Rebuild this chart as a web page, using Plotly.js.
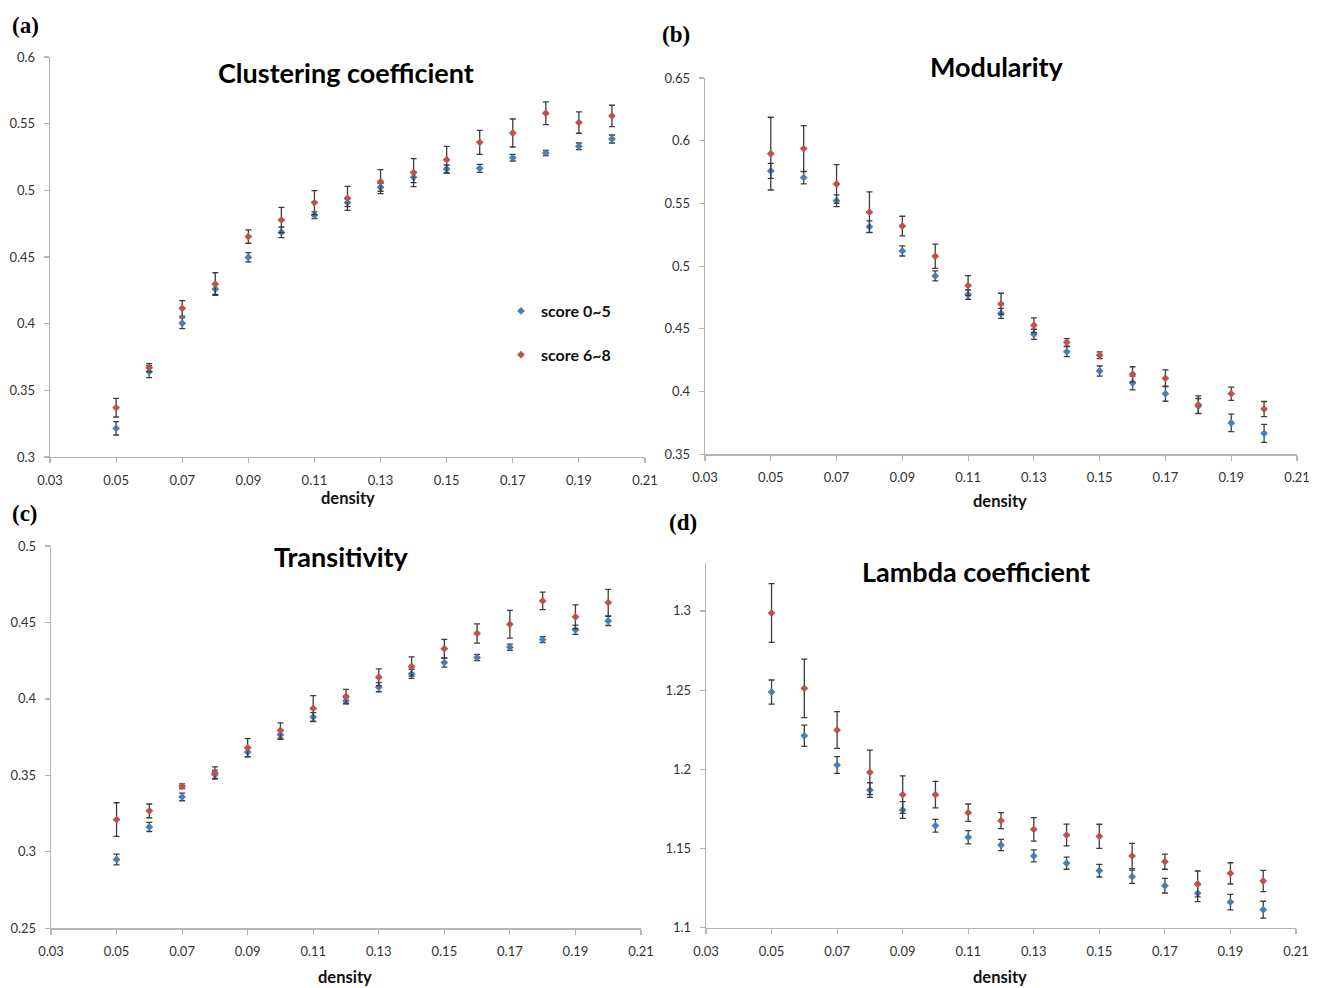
<!DOCTYPE html>
<html>
<head>
<meta charset="utf-8">
<script src="https://cdn.plot.ly/plotly-3.0.1.min.js"></script>
<style>html,body{margin:0;padding:0;background:#fff;}#chart{width:1320px;height:988px;}</style>
</head>
<body>
<div id="chart"></div>
<script>
// ---- data ----
const density = [0.05,0.06,0.07,0.08,0.09,0.10,0.11,0.12,0.13,0.14,0.15,0.16,0.17,0.18,0.19,0.20];
const seriesNames = ["score 0~5", "score 6~8"];
const panelTitles = ["Clustering coefficient", "Modularity", "Transitivity", "Lambda coefficient"];
const panelLabels = ["(a)", "(b)", "(c)", "(d)"];
const xLabel = "density";

const clusLow     = [0.3215,0.364,0.4003,0.426,0.4498,0.4685,0.4813,0.4908,0.5023,0.5098,0.516,0.5165,0.5245,0.528,0.533,0.5385];
const clusLowErr  = [0.005,0.0045,0.004,0.004,0.0035,0.004,0.0025,0.003,0.003,0.004,0.003,0.003,0.0025,0.002,0.0025,0.003];
const clusHigh    = [0.337,0.367,0.4115,0.4297,0.4653,0.4777,0.4908,0.494,0.5065,0.5133,0.523,0.536,0.543,0.5578,0.5508,0.5558];
const clusHighErr = [0.007,0.003,0.0058,0.0085,0.005,0.0095,0.009,0.009,0.009,0.0105,0.01,0.009,0.0105,0.0085,0.008,0.008];

const modLow      = [0.5759,0.5706,0.5522,0.5315,0.5121,0.4922,0.4773,0.4624,0.4457,0.4318,0.4164,0.4069,0.3983,0.3885,0.375,0.3667];
const modLowErr   = [0.006,0.005,0.0047,0.0046,0.004,0.004,0.0037,0.004,0.004,0.004,0.004,0.0055,0.006,0.006,0.007,0.0072];
const modHigh     = [0.5897,0.5937,0.5655,0.543,0.532,0.5079,0.4845,0.4699,0.4529,0.4393,0.429,0.4138,0.4106,0.3896,0.3983,0.3861];
const modHighErr  = [0.029,0.0183,0.0154,0.0162,0.0078,0.0096,0.008,0.0085,0.0058,0.003,0.0027,0.006,0.0067,0.007,0.0053,0.006];

const transLow     = [0.295,0.3163,0.3359,0.3505,0.3653,0.3766,0.3881,0.3988,0.4077,0.4164,0.4238,0.4271,0.4338,0.4388,0.4452,0.451];
const transLowErr  = [0.0035,0.003,0.0025,0.003,0.003,0.003,0.003,0.002,0.003,0.003,0.003,0.002,0.002,0.002,0.003,0.003];
const transHigh    = [0.3211,0.3268,0.3429,0.3518,0.3681,0.3794,0.3938,0.4016,0.4142,0.4212,0.4328,0.4428,0.4488,0.4641,0.4537,0.463];
const transHighErr = [0.011,0.0045,0.0015,0.0037,0.006,0.005,0.0083,0.0046,0.0055,0.0063,0.0061,0.0063,0.0091,0.0057,0.0078,0.0087];

const lamLow     = [1.2488,1.2212,1.2027,1.1869,1.1743,1.1644,1.1571,1.1522,1.1453,1.1407,1.136,1.1322,1.1265,1.1217,1.1162,1.1114];
const lamLowErr  = [0.0076,0.0067,0.0053,0.0046,0.0053,0.004,0.0042,0.0036,0.0038,0.0038,0.004,0.0042,0.0046,0.0053,0.0049,0.0053];
const lamHigh    = [1.2987,1.2511,1.2248,1.1981,1.184,1.184,1.1726,1.1676,1.1621,1.1585,1.1577,1.1453,1.1417,1.1276,1.1343,1.1295];
const lamHighErr = [0.0185,0.0185,0.0116,0.014,0.0118,0.0084,0.0055,0.005,0.0074,0.0069,0.0076,0.008,0.0048,0.0082,0.0067,0.0067];

// ---- layout helpers ----
const W = 1320, H = 988;
const px = v => v / W;
const py = v => 1 - v / H;
const BLUE = "#4a7ebb", RED = "#c0504d", ERR = "#3c3c3c";
const FONT = "Lato, 'Open Sans', sans-serif";

const panels = [
  {low: clusLow, lowE: clusLowErr, high: clusHigh, highE: clusHighErr,
   x0: 50, x1: 645, yTop: 57, yBot: 457, range: [0.3, 0.6], dtick: 0.05, tick0: 0.3,
   title: [346, 73], xl: [348, 498], lab: [25, 25]},
  {low: modLow, lowE: modLowErr, high: modHigh, highE: modHighErr,
   x0: 705, x1: 1297, yTop: 78, yBot: 454.3, range: [0.35, 0.65], dtick: 0.05, tick0: 0.35,
   title: [997, 67], xl: [1000, 501], lab: [676, 35]},
  {low: transLow, lowE: transLowErr, high: transHigh, highE: transHighErr,
   x0: 51, x1: 641, yTop: 546, yBot: 928.3, range: [0.25, 0.5], dtick: 0.05, tick0: 0.25,
   title: [341, 556], xl: [345, 977], lab: [25, 513]},
  {low: lamLow, lowE: lamLowErr, high: lamHigh, highE: lamHighErr,
   x0: 706, x1: 1296, yTop: 563.4, yBot: 927.7, range: [1.1, 1.33], dtick: 0.05, tick0: 1.1,
   title: [976, 571], xl: [1000, 977], lab: [683, 522]}
];

const data = [];
const layout = {
  width: W, height: H,
  margin: {l: 0, r: 0, t: 0, b: 0},
  paper_bgcolor: "#ffffff", plot_bgcolor: "#ffffff",
  font: {family: FONT, color: "#333333", size: 13},
  showlegend: true,
  legend: {
    x: px(501), y: py(294), xanchor: "left", yanchor: "top",
    bgcolor: "rgba(0,0,0,0)", tracegroupgap: 20,
    font: {family: FONT, size: 16, color: "#111111", weight: "bold"},
    itemwidth: 30
  },
  annotations: [],
  hovermode: false
};

panels.forEach((p, i) => {
  const n = i + 1;
  const xa = n === 1 ? "x" : "x" + n;
  const ya = n === 1 ? "y" : "y" + n;
  const xk = n === 1 ? "xaxis" : "xaxis" + n;
  const yk = n === 1 ? "yaxis" : "yaxis" + n;
  const axisCommon = {
    showgrid: false, zeroline: false, showline: true,
    linecolor: "#b4b4b4", linewidth: 1.3,
    ticks: "outside", ticklen: 5, tickcolor: "#b4b4b4", tickwidth: 1.2,
    tickfont: {family: FONT, size: 13, color: "#333333"},
    fixedrange: true
  };
  layout[xk] = Object.assign({}, axisCommon, {
    domain: [px(p.x0), px(p.x1)], anchor: ya,
    range: [0.03, 0.21], tick0: 0.03, dtick: 0.02, tickmode: "linear",
    ticklabelstandoff: 6
  });
  layout[yk] = Object.assign({}, axisCommon, {
    domain: [py(p.yBot), py(p.yTop)], anchor: xa,
    range: p.range, tick0: p.tick0, dtick: p.dtick, tickmode: "linear",
    ticklabelstandoff: 6
  });
  [[p.low, p.lowE, BLUE, seriesNames[0], "g1"], [p.high, p.highE, RED, seriesNames[1], "g2"]].forEach(s => {
    data.push({
      type: "scatter", mode: "markers",
      x: density, y: s[0], xaxis: xa, yaxis: ya,
      name: s[3], legendgroup: s[4], showlegend: i === 0,
      marker: {symbol: "diamond", size: 6, color: s[2]},
      error_y: {type: "data", array: s[1], visible: true, color: ERR, thickness: 1.3, width: 3}
    });
  });
  layout.annotations.push({
    text: panelTitles[i], xref: "paper", yref: "paper",
    x: px(p.title[0]), y: py(p.title[1]), xanchor: "center", yanchor: "middle",
    showarrow: false, font: {family: FONT, size: 27, color: "#000000", weight: "bold"}
  });
  layout.annotations.push({
    text: xLabel, xref: "paper", yref: "paper",
    x: px(p.xl[0]), y: py(p.xl[1]), xanchor: "center", yanchor: "middle",
    showarrow: false, font: {family: FONT, size: 16.5, color: "#111111", weight: "bold"}
  });
  layout.annotations.push({
    text: panelLabels[i], xref: "paper", yref: "paper",
    x: px(p.lab[0]), y: py(p.lab[1]), xanchor: "center", yanchor: "middle",
    showarrow: false, font: {family: "'Liberation Serif', 'DejaVu Serif', serif", size: 23, color: "#000000", weight: "bold"}
  });
});

Plotly.newPlot("chart", data, layout, {staticPlot: true, displayModeBar: false});
</script>
</body>
</html>
